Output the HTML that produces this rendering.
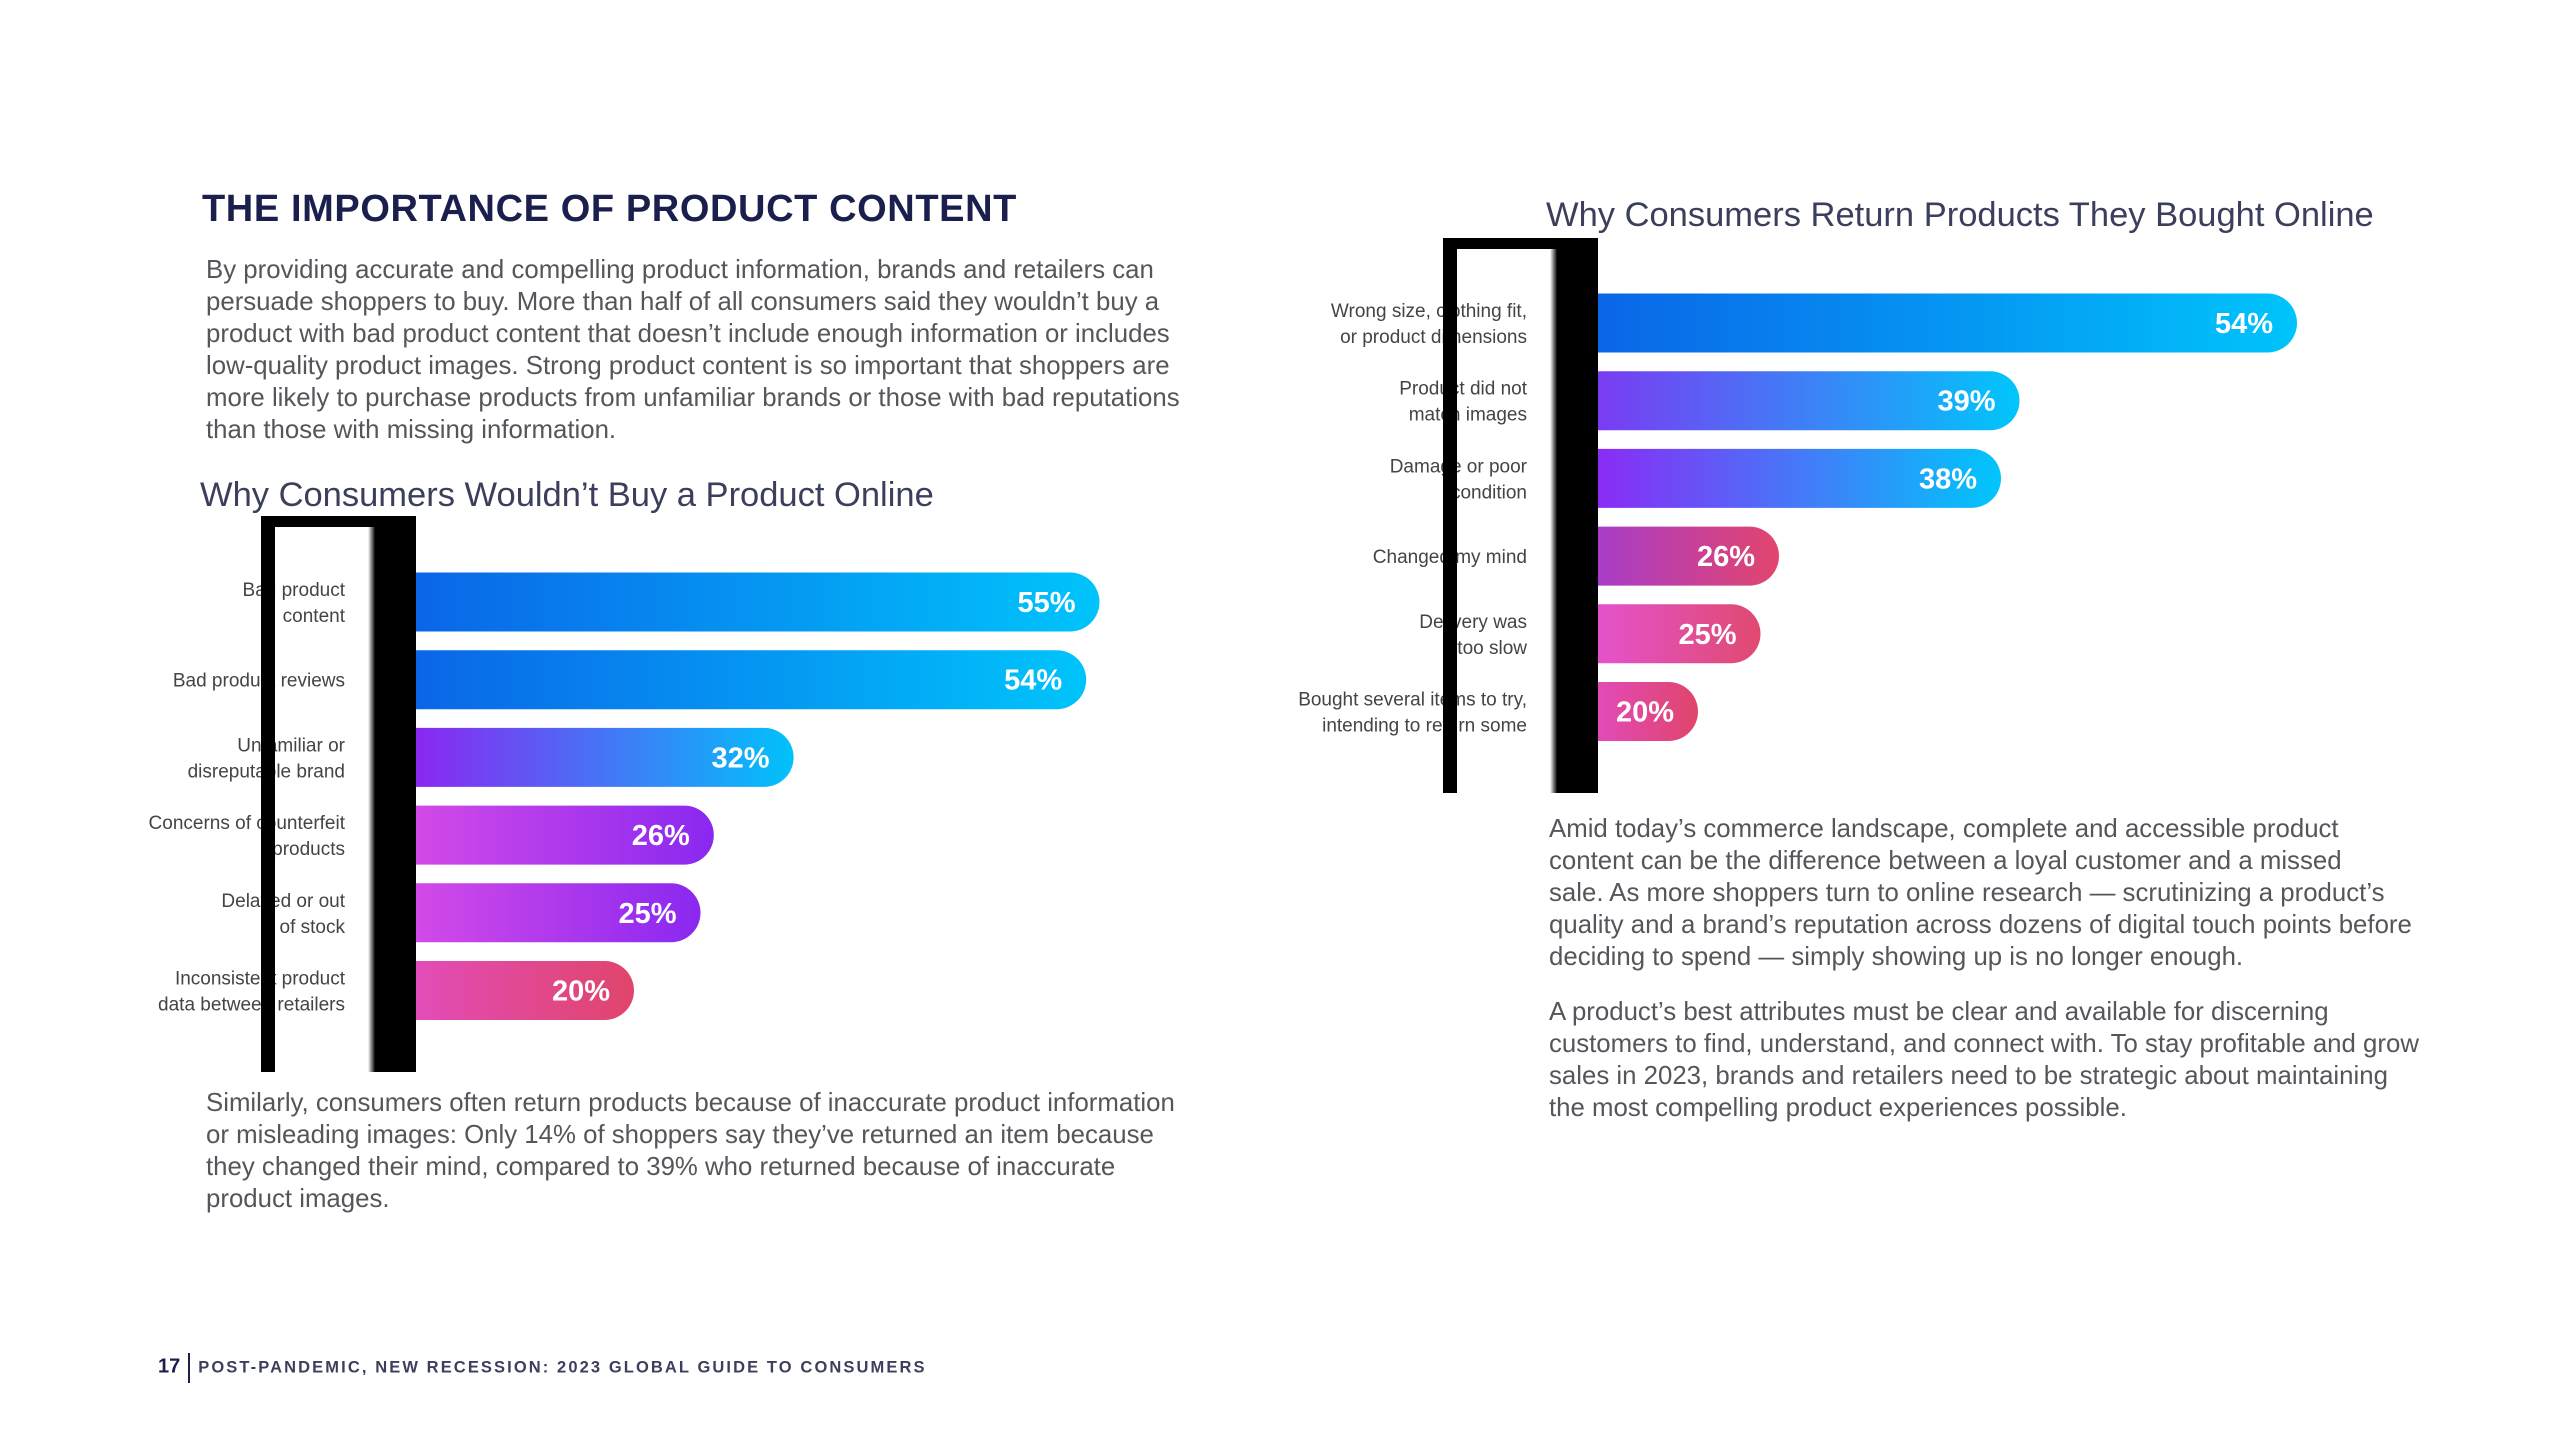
<!DOCTYPE html>
<html><head><meta charset="utf-8">
<style>
body{margin:0;width:2560px;height:1440px;background:#fff;position:relative;overflow:hidden;font-family:"Liberation Sans",sans-serif;}
.p{position:absolute;color:#55565b;font-size:25.8px;line-height:32px;white-space:nowrap;}
.h{position:absolute;left:202px;top:188px;font-size:38px;font-weight:bold;color:#1b1f4d;letter-spacing:0.6px;}
.ct{position:absolute;color:#3b3f5c;white-space:nowrap;}
svg{position:absolute;left:0;top:0}
.foot{position:absolute;left:158px;top:1353px;font-size:16.5px;font-weight:bold;color:#3b3f5c;letter-spacing:2.1px;white-space:nowrap}
</style></head><body>
<div class="h">THE IMPORTANCE OF PRODUCT CONTENT</div>
<div class="p" style="left:206px;top:254px">By providing accurate and compelling product information, brands and retailers can<br>persuade shoppers to buy. More than half of all consumers said they wouldn’t buy a<br>product with bad product content that doesn’t include enough information or includes<br>low-quality product images. Strong product content is so important that shoppers are<br>more likely to purchase products from unfamiliar brands or those with bad reputations<br>than those with missing information.</div>
<div class="ct" style="left:200px;top:476px;font-size:34.5px">Why Consumers Wouldn’t Buy a Product Online</div>
<div class="ct" style="left:1546px;top:196px;font-size:34.5px">Why Consumers Return Products They Bought Online</div>
<div class="p" style="left:206px;top:1087px">Similarly, consumers often return products because of inaccurate product information<br>or misleading images: Only 14% of shoppers say they’ve returned an item because<br>they changed their mind, compared to 39% who returned because of inaccurate<br>product images.</div>
<div class="p" style="left:1549px;top:813px">Amid today’s commerce landscape, complete and accessible product<br>content can be the difference between a loyal customer and a missed<br>sale. As more shoppers turn to online research — scrutinizing a product’s<br>quality and a brand’s reputation across dozens of digital touch points before<br>deciding to spend — simply showing up is no longer enough.</div>
<div class="p" style="left:1549px;top:996px">A product’s best attributes must be clear and available for discerning<br>customers to find, understand, and connect with. To stay profitable and grow<br>sales in 2023, brands and retailers need to be strategic about maintaining<br>the most compelling product experiences possible.</div>
<div class="foot"><span style="letter-spacing:0;font-size:20px;color:#1b1f4d">17</span><span style="display:inline-block;width:2px;height:30px;background:#1b1f4d;vertical-align:middle;margin:0 8px"></span>POST-PANDEMIC, NEW RECESSION: 2023 GLOBAL GUIDE TO CONSUMERS</div>
<svg id="chart" width="2560" height="1440">
<defs>
<linearGradient id="shadow" x1="0" x2="1" y1="0" y2="0"><stop offset="0" stop-color="#fff"/><stop offset="0.45" stop-color="#000"/></linearGradient>
</defs>
</svg>
<script>
const leftCategories=[["Bad product","content"],["Bad product reviews"],["Unfamiliar or","disreputable brand"],["Concerns of counterfeit","products"],["Delayed or out","of stock"],["Inconsistent product","data between retailers"]];
const leftValues=[55,54,32,26,25,20];
const leftLabels=["55%","54%","32%","26%","25%","20%"];
const rightCategories=[["Wrong size, clothing fit,","or product dimensions"],["Product did not","match images"],["Damage or poor","condition"],["Changed my mind"],["Delivery was","too slow"],["Bought several items to try,","intending to return some"]];
const rightValues=[54,39,38,26,25,20];
const rightLabels=["54%","39%","38%","26%","25%","20%"];
const leftColors=[["#0a66e8","#00c4fb"],["#0a66e8","#00c4fb"],["#8a28f0","#00c2fb"],["#d24ae8","#8a28f0"],["#d24ae8","#8a28f0"],["#e24cb8","#e0456a"]];
const rightColors=[["#0a66e8","#00c4fb"],["#7a3cf2","#00c6fb"],["#8a2cf5","#00c6fb"],["#a83cc8","#e2456e"],["#e452cc","#e04a70"],["#e24ab8","#e0456a"]];
const NS="http://www.w3.org/2000/svg";
const svg=document.getElementById('chart');
const defs=svg.querySelector('defs');
function mk(t,a){const e=document.createElementNS(NS,t);for(const k in a)e.setAttribute(k,a[k]);return e;}
function drawChart(cfg){
  const {cats,vals,labs,cols,fx,fy,fw,fh,x0,y0,step,bh,xs,id}=cfg;
  const f=mk('rect',{x:fx,y:fy,width:fw,height:fh,fill:'#000'});
  
  
  svg.appendChild(f);
  svg.appendChild(mk('rect',{x:fx+14,y:fy+11,width:fw-62,height:fh-11,fill:'#fff'}));
  svg.appendChild(mk('rect',{x:fx+fw-48,y:fy+11,width:16,height:fh-11,fill:'url(#shadow)'}));
  vals.forEach((v,i)=>{
    const cy=y0+i*step;
    const g=mk('linearGradient',{id:id+'g'+i,x1:0,x2:1,y1:0,y2:0});
    g.appendChild(mk('stop',{offset:0,'stop-color':cols[i][0]}));
    g.appendChild(mk('stop',{offset:1,'stop-color':cols[i][1]}));
    defs.appendChild(g);
    const w=Math.max(xs(v),100);
    const r=bh/2;
    const p=mk('path',{d:`M${x0},${cy-r}H${x0+w-r}A${r},${r} 0 0 1 ${x0+w-r},${cy+r}H${x0}Z`,fill:`url(#${id}g${i})`});
    
    
    svg.appendChild(p);
    const t=mk('text',{x:x0+w-24,y:cy+10,'text-anchor':'end','font-size':29,'font-weight':'bold',fill:'#fff','font-family':'Liberation Sans, sans-serif'});
    t.textContent=labs[i];
    
    
    svg.appendChild(t);
    const lines=cats[i];
    lines.forEach((ln,j)=>{
      const ty=cy+7+(j-(lines.length-1)/2)*26;
      const lt=mk('text',{x:x0-71,y:ty,'text-anchor':'end','font-size':19,fill:'#444','font-family':'Liberation Sans, sans-serif'});
      lt.textContent=ln;
      
      
      svg.appendChild(lt);
    });
  });
  svg.appendChild(mk('rect',{x:fx,y:fy,width:14,height:fh,fill:'#000'}));
}
drawChart({cats:leftCategories,vals:leftValues,labs:leftLabels,cols:leftColors,fx:261,fy:516,fw:155,fh:556,x0:416,y0:602,step:77.7,bh:59,xs:v=>-48+13.3*v,id:'left'});
drawChart({cats:rightCategories,vals:rightValues,labs:rightLabels,cols:rightColors,fx:1443,fy:238,fw:155,fh:555,x0:1598,y0:323,step:77.7,bh:59,xs:v=>-300+18.5*v,id:'right'});
</script>
</body></html>
